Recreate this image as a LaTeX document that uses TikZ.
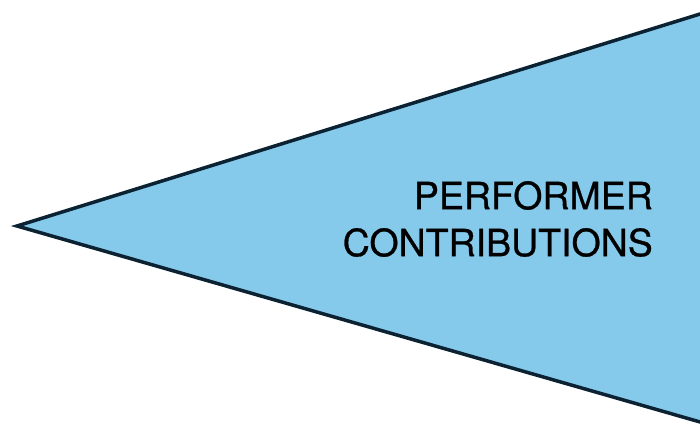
\documentclass[tikz,border=0pt]{standalone}
\usepackage{fontspec}
\setmainfont{TeX Gyre Heros}
\newfontfamily\capfont{TeX Gyre Heros}[BoldFont={TeX Gyre Heros}, BoldFeatures={FakeBold=0.7}]
\usetikzlibrary{positioning}
\definecolor{wedgeblue}{HTML}{85CAEB}
\definecolor{wedgeline}{HTML}{0B2233}
\tikzset{
    wedge/.style={draw=wedgeline, fill=wedgeblue, line width=3.5pt, line join=miter},
    caption/.style={align=right, inner sep=0pt, font=\capfont\bfseries\fontsize{37.5}{47}\selectfont, text=black},
}

\begin{document}
\begin{tikzpicture}[x=1pt, y=1pt]
    \useasboundingbox (0,0) rectangle (700,426);

    % ── Wedge corners ──────────────────────────────────────────────
    \coordinate (tip)    at (17, 200);
    \coordinate (topend) at (720, 418.2);
    \coordinate (botend) at (720, -1.7);

    \draw[wedge] (tip) -- (topend) -- (botend) -- cycle;

    % ── Label ──────────────────────────────────────────────────────
    \node[caption, anchor=east] (label) at (653, 207) {PERFORMER\\CONTRIBUTIONS};

\end{tikzpicture}
\end{document}
